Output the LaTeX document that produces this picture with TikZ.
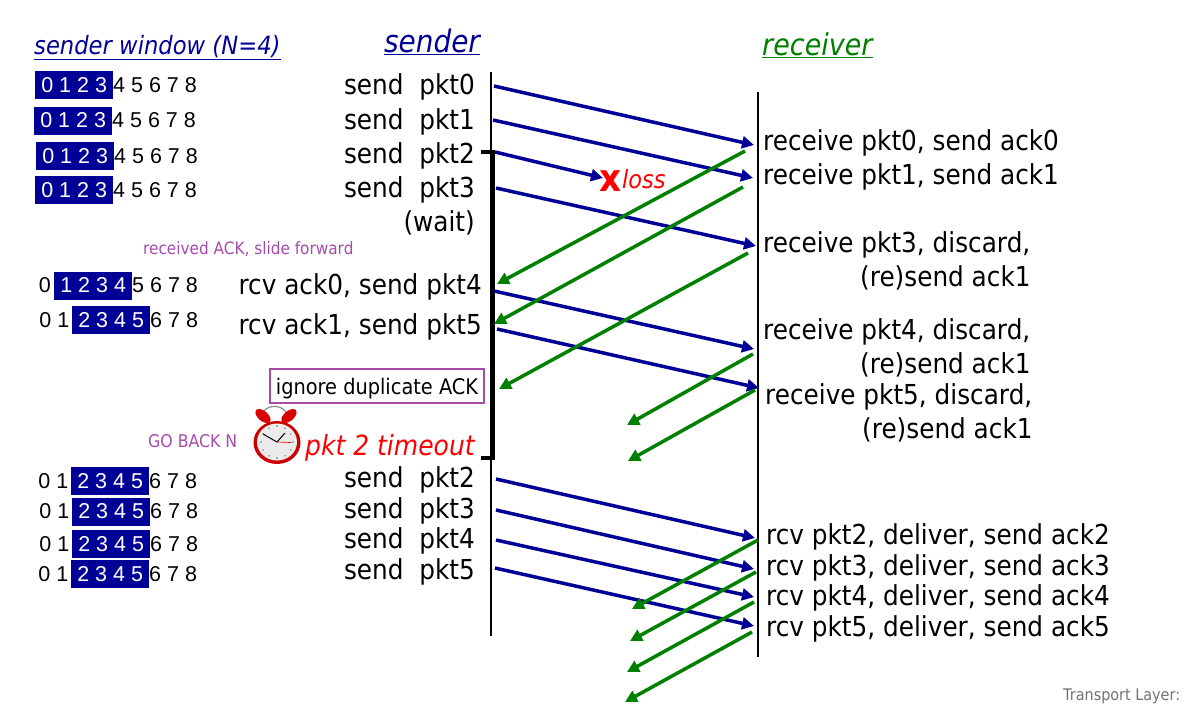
\documentclass[tikz,border=0pt]{standalone}
\usepackage{fontspec}
\setmainfont{DejaVu Sans}[FakeStretch=0.9]
\newfontfamily\digitfont{Liberation Sans}
\usetikzlibrary{arrows.meta}

\definecolor{pktblue}{RGB}{0,0,150}
\definecolor{ackgreen}{RGB}{0,128,0}
\definecolor{notepurple}{RGB}{165,75,170}
\definecolor{lossred}{RGB}{255,0,0}

\tikzset{
  pktarrow/.style={draw=pktblue, line width=3.5pt, -{Triangle[length=12pt,width=12pt]}},
  ackarrow/.style={draw=ackgreen, line width=3.5pt, -{Triangle[length=12pt,width=12pt]}},
  timeline/.style={draw=black, line width=1.2pt},
  event/.style={font=\fontsize{27.5}{27.5}\selectfont, inner sep=0pt},
  winbox/.style={fill=pktblue, text=white, font=\digitfont\fontsize{21.5}{21.5}\selectfont, inner sep=0pt, minimum width=78pt, minimum height=28pt, anchor=west},
  wintext/.style={font=\digitfont\fontsize{21.5}{21.5}\selectfont, inner sep=0pt},
  note/.style={text=notepurple, inner sep=0pt}
}

\begin{document}
\begin{tikzpicture}[x=1pt,y=-1pt]

    \useasboundingbox (0,0) rectangle (1184,718);

    % titles
    \node[anchor=base west, inner sep=0pt, text=pktblue, font=\itshape\fontsize{25.2}{25}\selectfont] (wintitle) at (34,54) {\underline{sender window (N=4)}};
    \node[anchor=base west, inner sep=0pt, text=pktblue, font=\itshape\fontsize{31}{31}\selectfont] (sendertitle) at (384,52) {\underline{sender}};
    \node[anchor=base west, inner sep=0pt, text=ackgreen, font=\itshape\fontsize{30}{30}\selectfont] (receivertitle) at (762,55) {\underline{receiver}};

    % sender window rows
    \node[winbox] (w0) at (35,85) {0 1 2 3};
    \node[wintext, anchor=west] (r0) at (113,85) {4 5 6 7 8};
    \node[winbox] (w1) at (34,120.5) {0 1 2 3};
    \node[wintext, anchor=west] (r1) at (112,120.5) {4 5 6 7 8};
    \node[winbox] (w2) at (36,156) {0 1 2 3};
    \node[wintext, anchor=west] (r2) at (114,156) {4 5 6 7 8};
    \node[winbox] (w3) at (35,190) {0 1 2 3};
    \node[wintext, anchor=west] (r3) at (113,190) {4 5 6 7 8};

    \node[wintext, anchor=east] (l4) at (51,285.5) {0};
    \node[winbox] (w4) at (54,285.5) {1 2 3 4};
    \node[wintext, anchor=west] (r4) at (132,285.5) {5 6 7 8};
    \node[wintext, anchor=east] (l5) at (69.5,320) {0 1};
    \node[winbox] (w5) at (72,320) {2 3 4 5};
    \node[wintext, anchor=west] (r5) at (150,320) {6 7 8};

    \node[wintext, anchor=east] (l6) at (68.5,481) {0 1};
    \node[winbox] (w6) at (71,481) {2 3 4 5};
    \node[wintext, anchor=west] (r6) at (149,481) {6 7 8};
    \node[wintext, anchor=east] (l7) at (69.5,511.5) {0 1};
    \node[winbox] (w7) at (72,511.5) {2 3 4 5};
    \node[wintext, anchor=west] (r7) at (150,511.5) {6 7 8};
    \node[wintext, anchor=east] (l8) at (69.5,544) {0 1};
    \node[winbox] (w8) at (72,544) {2 3 4 5};
    \node[wintext, anchor=west] (r8) at (150,544) {6 7 8};
    \node[wintext, anchor=east] (l9) at (68.5,574) {0 1};
    \node[winbox] (w9) at (71,574) {2 3 4 5};
    \node[wintext, anchor=west] (r9) at (149,574) {6 7 8};

    % timelines
    \coordinate (sendertop) at (491,72);
    \coordinate (senderbot) at (491,636);
    \coordinate (receivertop) at (758,92);
    \coordinate (receiverbot) at (758,657);
    \draw[timeline] (sendertop) -- (senderbot);
    \draw[timeline] (receivertop) -- (receiverbot);

    % timer bracket
    \coordinate (bracketa) at (481,152);
    \coordinate (bracketb) at (493,152);
    \coordinate (bracketc) at (493,458);
    \coordinate (bracketd) at (481,458);
    \draw[line width=3.5pt] (bracketa) -- (bracketb) -- (bracketc) -- (bracketd);

    % sender events
    \foreach \nm/\xpos/\ypos/\txt in {e0/475/94/send\ \ pkt0, e1/475/129/send\ \ pkt1, e2/475/163/send\ \ pkt2, e3/475/197/send\ \ pkt3, e4/475/231/(wait),
        e5/482/294/rcv ack0{,} send pkt4, e6/482/334/rcv ack1{,} send pkt5,
        e7/475/487/send\ \ pkt2, e8/475/518/send\ \ pkt3, e9/475/548/send\ \ pkt4, e10/475/579/send\ \ pkt5}
      \node[event, anchor=base east] (\nm) at (\xpos,\ypos) {\txt};

    % receiver events
    \foreach \nm/\xpos/\ypos/\txt in {f0/763/150/receive pkt0{,} send ack0, f1/763/184/receive pkt1{,} send ack1,
        f2/763/252/receive pkt3{,} discard{,}, f3/860/286/(re)send ack1,
        f4/763/339/receive pkt4{,} discard{,}, f5/860/373/(re)send ack1,
        f6/765/404/receive pkt5{,} discard{,}, f7/862/438/(re)send ack1,
        f8/766/544/rcv pkt2{,} deliver{,} send ack2, f9/766/575/rcv pkt3{,} deliver{,} send ack3,
        f10/766/605/rcv pkt4{,} deliver{,} send ack4, f11/766/636/rcv pkt5{,} deliver{,} send ack5}
      \node[event, anchor=base west] (\nm) at (\xpos,\ypos) {\txt};

    % packets
    \foreach \nm/\xa/\ya/\xb/\yb in {0/494/86/754/145, 1/493/120/753/178, 2/495/152/603/178, 3/496/188/756/246,
        4/494/291/754/349, 5/497/329/759/388, 6/496/479/755/538, 7/496/510/754/569, 8/496/540/754/597, 9/495/568/754/626} {
      \coordinate (p\nm a) at (\xa,\ya);
      \coordinate (p\nm b) at (\xb,\yb);
      \draw[pktarrow] (p\nm a) -- (p\nm b);
    }

    % acks
    \foreach \nm/\xa/\ya/\xb/\yb in {0/745/151/497/284, 1/743/187/494/324, 2/748/253/499/389, 3/753/354/627/425, 4/755/390/628/461,
        5/758/540/632/609, 6/756/572/630/641, 7/754/602/627/672, 8/752/632/625/702} {
      \coordinate (q\nm a) at (\xa,\ya);
      \coordinate (q\nm b) at (\xb,\yb);
      \draw[ackarrow] (q\nm a) -- (q\nm b);
    }

    % loss mark
    \node[anchor=base west, inner sep=0pt, text=lossred, font=\bfseries\fontsize{38}{38}\selectfont] (xmark) at (599,191) {x};
    \node[anchor=base west, inner sep=0pt, text=lossred, font=\itshape\fontsize{25}{25}\selectfont] (losstext) at (622,188) {loss};

    % notes
    \node[note, anchor=base west, font=\fontsize{17}{17}\selectfont] (slidenote) at (143,254) {received ACK, slide forward};
    \node[note, anchor=base west, font=\fontsize{17.5}{17.5}\selectfont] (gobacknote) at (148,447) {GO BACK N};
    \node[draw=notepurple, line width=2.6pt, fill=white, minimum width=214pt, minimum height=34pt, inner sep=0pt, font=\fontsize{21.5}{21.5}\selectfont] (ignorebox) at (377,386) {\raisebox{-8.5pt}[0pt][0pt]{ignore duplicate ACK}};
    \node[anchor=base west, inner sep=0pt, text=lossred, font=\itshape\fontsize{27.8}{27.8}\selectfont] (timeouttext) at (305,455) {pkt 2 timeout};
    \node[anchor=base west, inner sep=0pt, text=black!55, font=\fontsize{16}{16}\selectfont] (footer) at (1063,700) {Transport Layer:};

    % alarm clock
    \draw[black!45, line width=1.2pt] (263,412) .. controls (268,405) and (280,404) .. (286,412);
    \fill[red!85!black, rotate around={-40:(263,416)}] (263,416) ellipse (9 and 5);
    \fill[red!85!black, rotate around={40:(289,416)}] (289,416) ellipse (9 and 5);
    \fill[red!80!black] (277,442.5) ellipse (23.5 and 21.5);
    \fill[white!92!black] (277,442) ellipse (20 and 18.5);
    \foreach \ang in {0,30,...,330}
      \fill[black!60] (277,442) ++(\ang:16) circle (0.8);
    \draw[black, line width=1pt] (277,442) -- (263,434);
    \draw[black, line width=1pt] (277,442) -- (285,433);
    \draw[red, line width=0.7pt] (277,442) -- (291,442.5);

\end{tikzpicture}
\end{document}
